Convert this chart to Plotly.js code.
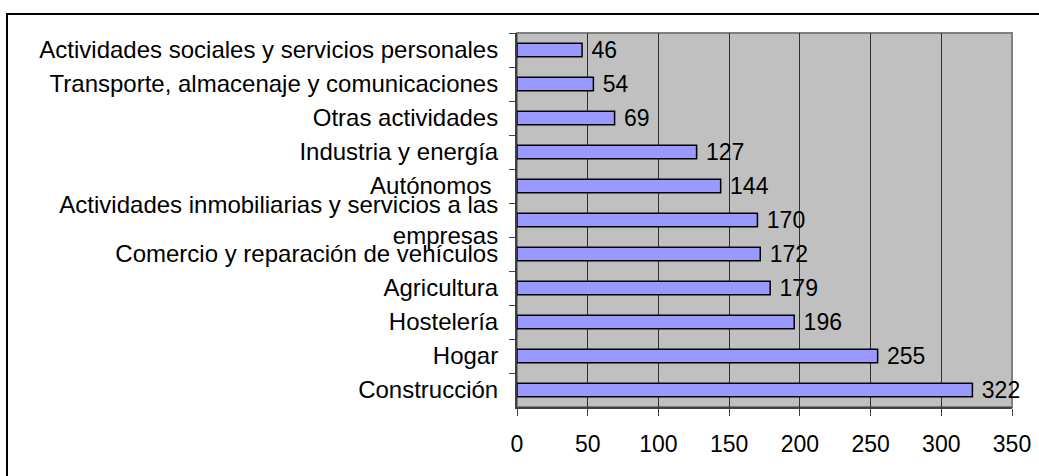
<!DOCTYPE html>
<html>
<head>
<meta charset="utf-8">
<script src="https://cdn.plot.ly/plotly-3.0.1.min.js"></script>
<style>html,body{margin:0;padding:0;background:#fff;}#chart{width:1039px;height:476px;}</style>
</head>
<body>
<div id="chart"></div>
<script>
// Categories listed top to bottom
const categories = [
  "Actividades sociales y servicios personales",
  "Transporte, almacenaje y comunicaciones",
  "Otras actividades",
  "Industria y energía",
  "Autónomos\u00a0",
  "Actividades inmobiliarias y servicios a las<br>empresas",
  "Comercio y reparación de vehículos",
  "Agricultura",
  "Hostelería",
  "Hogar",
  "Construcción"
];
const values = [46, 54, 69, 127, 144, 170, 172, 179, 196, 255, 322];
const xTicks = [0, 50, 100, 150, 200, 250, 300, 350];

const W = 1039, H = 476;
const m = {l: 517, r: 27, t: 33, b: 69};
const pw = W - m.l - m.r, ph = H - m.t - m.b;
const px = v => (v - m.l) / pw;
const py = v => 1 - (v - m.t) / ph;

const family = "Liberation Sans, Arial, sans-serif";
const font = {family: family, size: 23, color: "#000"};
const yFont = {family: family, size: 24, color: "#000"};

const trace = {
  type: "bar",
  orientation: "h",
  x: values,
  y: categories,
  text: values.map(v => "\u00a0" + v),
  textposition: "outside",
  constraintext: "none",
  cliponaxis: false,
  textfont: font,
  marker: {color: "#9999FF", line: {color: "#000", width: 1.5}},
  hoverinfo: "none"
};

const layout = {
  width: W, height: H,
  margin: m,
  paper_bgcolor: "#fff",
  plot_bgcolor: "#C0C0C0",
  font: font,
  showlegend: false,
  bargap: 0.6,
  xaxis: {
    range: [0, 350],
    tickvals: xTicks,
    ticktext: xTicks.map(String),
    showgrid: true, gridcolor: "#303030", gridwidth: 1,
    showline: true, linecolor: "#404040", linewidth: 2,
    ticks: "outside", ticklen: 7, tickcolor: "#404040", tickwidth: 1,
    tickfont: font,
    ticklabelstandoff: 8,
    zeroline: false,
    fixedrange: true
  },
  yaxis: {
    type: "category",
    autorange: "reversed",
    showgrid: false,
    showline: true, linecolor: "#404040", linewidth: 2,
    ticks: "outside", tickson: "boundaries", ticklen: 6, tickcolor: "#404040", tickwidth: 1,
    tickfont: yFont,
    ticklabelstandoff: 12,
    fixedrange: true
  },
  shapes: [
    {type: "rect", xref: "paper", yref: "paper", x0: 0, x1: 1, y0: 0, y1: 1,
     line: {color: "#808080", width: 2}, fillcolor: "rgba(0,0,0,0)", layer: "below"},
    {type: "rect", xref: "paper", yref: "paper", x0: px(7), x1: px(1045), y0: py(14), y1: py(482),
     line: {color: "#000", width: 2}, fillcolor: "rgba(0,0,0,0)"}
  ]
};

Plotly.newPlot("chart", [trace], layout, {displayModeBar: false, staticPlot: true});
</script>
</body>
</html>
